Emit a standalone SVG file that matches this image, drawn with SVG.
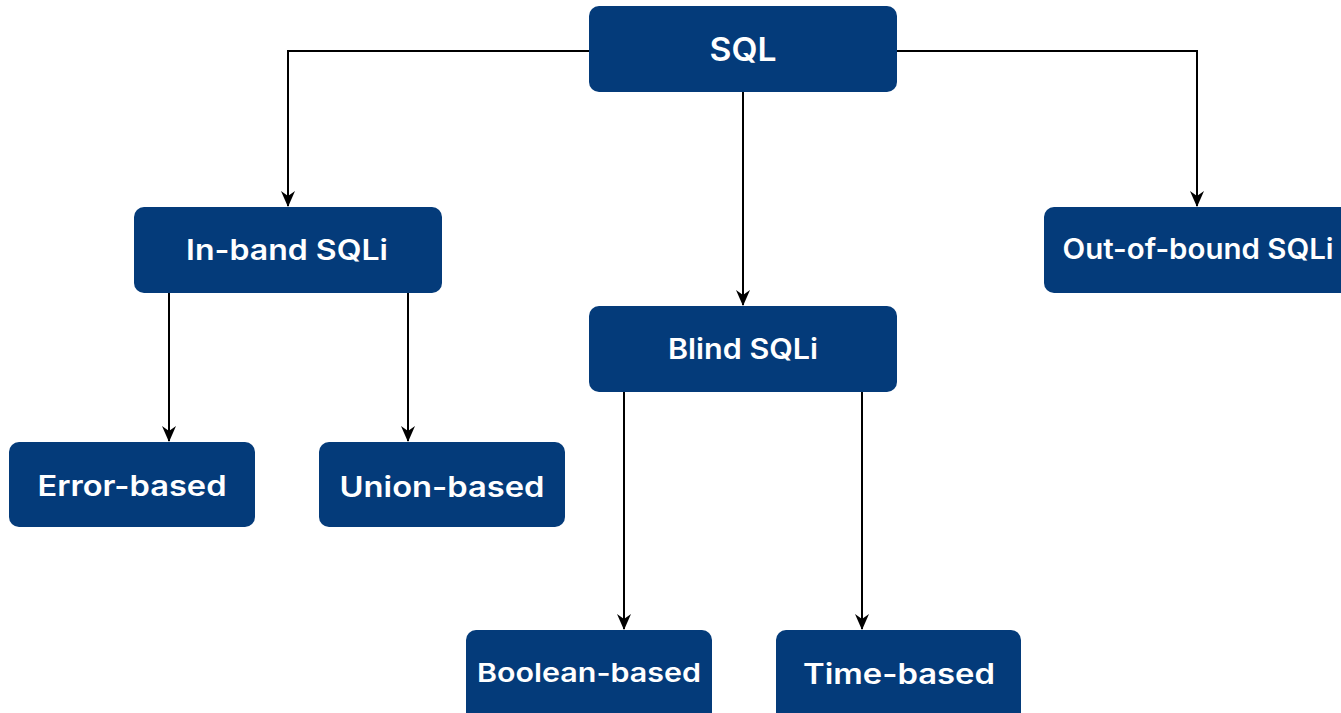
<svg xmlns="http://www.w3.org/2000/svg" width="1341" height="713" viewBox="0 0 1341 713">
<style>
.n{fill:#043b7a}
.t{fill:#fff;font-family:Inter,"Noto Sans","Liberation Sans",sans-serif;font-weight:600;text-anchor:middle;dominant-baseline:central}
.c{stroke:#000;stroke-width:2;fill:none;marker-end:url(#a)}
</style>
<defs>
<marker id="a" markerUnits="userSpaceOnUse" markerWidth="16" markerHeight="14" refX="15" refY="7" orient="auto" viewBox="0 0 16 14">
<path d="M0,0 L16,7 L0,14 L5,7 Z" fill="#000"/>
</marker>
</defs>
<rect width="1341" height="713" fill="#fff"/>
<g id="connectors">
<path class="c" d="M589,51 H288 V206"/>
<path class="c" d="M897,51 H1197 V206"/>
<path class="c" d="M743,92 V305"/>
<path class="c" d="M169,293 V441"/>
<path class="c" d="M408,293 V441"/>
<path class="c" d="M624,392 V629"/>
<path class="c" d="M862,392 V629"/>
</g>
<g id="sql"><rect class="n" x="589" y="6" width="308" height="86" rx="10"/><text class="t" x="743" y="49" font-size="32" textLength="67" lengthAdjust="spacingAndGlyphs">SQL</text></g>
<g id="inband"><rect class="n" x="134" y="207" width="308" height="86" rx="10"/><text class="t" x="287" y="250" font-size="28" textLength="202" lengthAdjust="spacingAndGlyphs">In-band SQLi</text></g>
<g id="outofbound"><rect class="n" x="1044" y="207" width="310" height="86" rx="10"/><text class="t" x="1198" y="249" font-size="28" textLength="271" lengthAdjust="spacingAndGlyphs">Out-of-bound SQLi</text></g>
<g id="blind"><rect class="n" x="589" y="306" width="308" height="86" rx="10"/><text class="t" x="743" y="349" font-size="28" textLength="150" lengthAdjust="spacingAndGlyphs">Blind SQLi</text></g>
<g id="error"><rect class="n" x="9" y="442" width="246" height="85" rx="10"/><text class="t" x="132" y="486" font-size="28" textLength="189" lengthAdjust="spacingAndGlyphs">Error-based</text></g>
<g id="union"><rect class="n" x="319" y="442" width="246" height="85" rx="10"/><text class="t" x="442" y="487" font-size="28" textLength="205" lengthAdjust="spacingAndGlyphs">Union-based</text></g>
<g id="boolean"><rect class="n" x="466" y="630" width="246" height="95" rx="10"/><text class="t" x="589" y="672" font-size="26" textLength="224" lengthAdjust="spacingAndGlyphs">Boolean-based</text></g>
<g id="time"><rect class="n" x="776" y="630" width="245" height="95" rx="10"/><text class="t" x="899" y="674" font-size="28" textLength="192" lengthAdjust="spacingAndGlyphs">Time-based</text></g>
</svg>
